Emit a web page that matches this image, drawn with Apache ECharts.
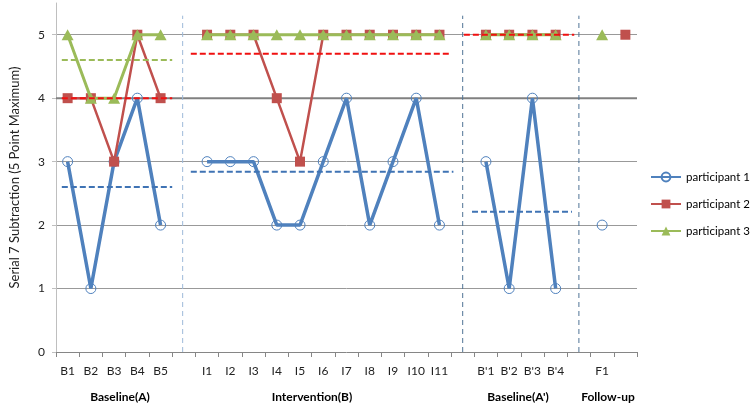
<!DOCTYPE html>
<html><head><meta charset="utf-8">
<script src="https://cdn.jsdelivr.net/npm/echarts@6/dist/echarts.min.js"></script>
<style>html,body{margin:0;padding:0;background:#fff}#c{width:756px;height:409px}</style>
</head><body><div id="c"></div>
<script>
const categories = ['B1','B2','B3','B4','B5','','I1','I2','I3','I4','I5','I6','I7','I8','I9','I10','I11',' ',"B'1","B'2","B'3","B'4",'  ','F1','   '];
const participant1 = [3,1,3,4,2,null,3,3,3,2,2,3,4,2,3,4,2,null,3,1,4,1,null,2,null];
const participant2 = [4,4,3,5,4,null,5,5,5,4,3,5,5,5,5,5,5,null,5,5,5,5,null,null,5];
const participant3 = [5,4,4,5,5,null,5,5,5,5,5,5,5,5,5,5,5,null,5,5,5,5,null,5,null];
// phase mean lines (value, start, end in category-slot units)
const p1Means = [2.6, 2.84, 2.21];
const p1MeanSpans = [[0.25,5.0],[5.8,17.1],[17.9,22.2]];
const p2Means = [4.0, 4.70, 5.0];
const p2MeanSpans = [[0.25,5.0],[5.8,17.0],[17.55,22.3]];
const p3Means = [4.6];
const p3MeanSpans = [[0.25,5.0]];
const phaseSeparators = [5.45, 17.5, 22.5];
const separatorTop = 5.3;
const targetLevel = 4;
const phaseLabels = ['Baseline(A)','Intervention(B)',"Baseline(A')",'Follow-up'];
const phaseLabelX = [120, 312, 518, 608];
const yTitle = 'Serial 7 Subtraction (5 Point Maximum)';

const BLUE='#4F81BD', RED='#C0504D', GREEN='#9BBB59';
const FONT='Lato';

const series = [];
series.push({type:'line', xAxisIndex:1, data:[[0,targetLevel],[25,targetLevel]], symbol:'none', silent:true,
  lineStyle:{color:'#808080', width:2}, z:1});
phaseSeparators.forEach((x,i)=>{
  series.push({type:'line', xAxisIndex:1, data:[[x,0],[x,separatorTop]], symbol:'none', silent:true,
    lineStyle:{color: i===0 ? '#9DB9DA' : '#4F7396', width:1, type:[5,4]}, z:1});
});
series.push({name:'participant 1', type:'line', data:participant1, symbol:'circle', symbolSize:10, showAllSymbol:true,
  lineStyle:{color:BLUE, width:3.5}, itemStyle:{color:'rgba(255,255,255,0)', borderColor:BLUE, borderWidth:1}, color:BLUE, z:3});
series.push({name:'participant 2', type:'line', data:participant2, symbol:'rect', symbolSize:10, showAllSymbol:true,
  lineStyle:{color:RED, width:2.5}, itemStyle:{color:RED}, color:RED, z:4});
series.push({name:'participant 3', type:'line', data:participant3, symbol:'triangle', symbolSize:[12,11], showAllSymbol:true,
  lineStyle:{color:GREEN, width:3}, itemStyle:{color:GREEN}, color:GREEN, z:5});
function addMeans(means, spans, color){
  means.forEach((m,i)=>{
    series.push({type:'line', xAxisIndex:1, data:[[spans[i][0],m],[spans[i][1],m]], symbol:'none', silent:true,
      lineStyle:{color:color, width:2, type:[6,3]}, z:6});
  });
}
addMeans(p1Means, p1MeanSpans, '#3F73B4');
addMeans(p3Means, p3MeanSpans, GREEN);
addMeans(p2Means, p2MeanSpans, '#F01010');

const chart = echarts.init(document.getElementById('c'), null, {renderer:'canvas'});
chart.setOption({
  animation:false,
  textStyle:{fontFamily:FONT},
  grid:{left:53, right:119, top:3, bottom:57, containLabel:false},
  legend:{data:['participant 1','participant 2','participant 3'], orient:'vertical', left:650, top:171, padding:0,
    itemWidth:30, itemHeight:11, itemGap:15, textStyle:{fontFamily:FONT, fontSize:11.5, color:'#000'}},
  xAxis:[{type:'category', data:categories, boundaryGap:true,
    axisLine:{lineStyle:{color:'#868686'}},
    axisTick:{show:true, interval:0, length:5, lineStyle:{color:'#868686'}},
    axisLabel:{interval:0, margin:13, fontSize:12, color:'#222', fontFamily:FONT},
    splitLine:{show:false}},
   {type:'value', min:0, max:25, show:false}],
  yAxis:{type:'value', min:0, max:5.5, interval:1,
    name:yTitle, nameLocation:'middle', nameGap:35, nameRotate:90,
    nameTextStyle:{fontSize:13, color:'#222', fontFamily:FONT},
    axisLine:{show:true, lineStyle:{color:'#BFBFBF'}},
    axisTick:{show:true, length:4, lineStyle:{color:'#BFBFBF'}},
    axisLabel:{showMaxLabel:false, margin:11, fontSize:12, color:'#222', fontFamily:FONT},
    splitLine:{show:true, showMinLine:false, showMaxLine:false, lineStyle:{color:'#999', width:1}}},
  graphic: phaseLabels.map((t,i)=>({type:'text', x:phaseLabelX[i], y:397,
    style:{text:t, fill:'#000', font:'bold 12px '+FONT, align:'center', verticalAlign:'middle'}})),
  series:series
});
</script></body></html>
